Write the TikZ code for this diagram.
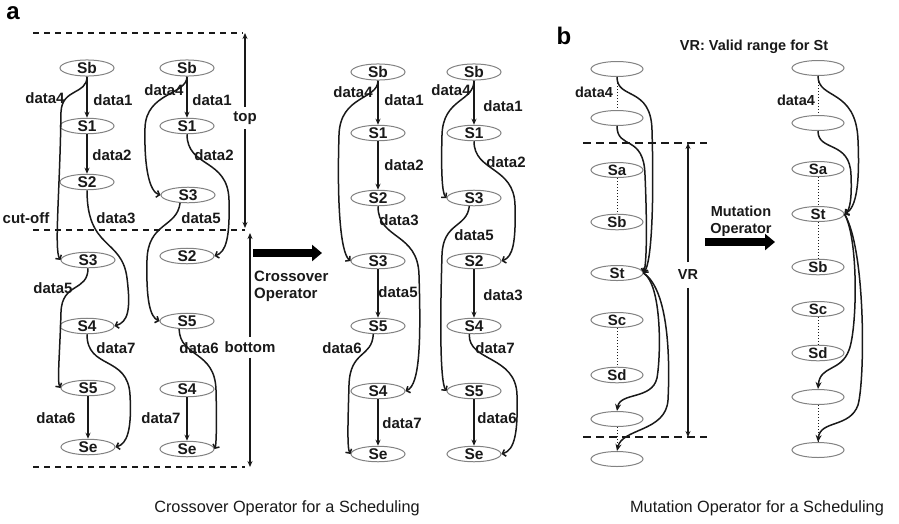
\documentclass[tikz,border=0pt]{standalone}
\usepackage{fontspec}
\setmainfont{Liberation Sans}
\usepackage{tikz}
\usetikzlibrary{arrows.meta,shapes.geometric}
\usepackage{xcolor}
\definecolor{cRim}{RGB}{130,130,130}
\definecolor{cInk}{RGB}{25,25,25}
\tikzset{
  st/.style     ={ellipse,draw=cRim,line width=1pt,minimum width=54pt,minimum height=15pt,
                  inner sep=0pt,font=\fontsize{15.5}{16}\selectfont\bfseries,text=cInk},
  stb/.style    ={st,minimum width=52pt,font=\fontsize{15}{16}\selectfont\bfseries},
  lbl/.style    ={font=\fontsize{15}{16}\selectfont\bfseries,inner sep=0pt,text=cInk},
  lblb/.style   ={lbl,font=\fontsize{14.5}{16}\selectfont\bfseries},
  dl/.style     ={lbl,outer sep=5pt},
  ed/.style     ={-{Stealth[length=6pt,width=5pt]},line width=1.5pt,draw=cInk},
  cv/.style     ={-{Straight Barb[length=3pt,width=7pt]},line width=1.5pt,draw=cInk},
  cvb/.style    ={-{Stealth[length=7pt,width=6pt]},line width=1.5pt,draw=cInk},
  cutline/.style={dash pattern=on 6pt off 5pt,line width=1.5pt,draw=cInk},
  dim/.style    ={-{Stealth[length=6pt,width=5pt]},line width=1.2pt,draw=cInk},
  opr/.style    ={-{Triangle[length=10pt,width=16pt]},line width=8pt,draw=black},
  dotl/.style   ={dotted,line width=1pt,draw=cInk},
  ttl/.style    ={font=\fontsize{24}{26}\selectfont\bfseries,inner sep=0pt},
  capt/.style   ={font=\fontsize{16.3}{18}\selectfont,inner sep=0pt,text=cInk},
}

\begin{document}
\begin{tikzpicture}[x=1pt,y=-1pt]
\useasboundingbox (0,0) rectangle (899,523);

\node[ttl] (ta) at (13,13) {a};
\node[ttl] (tb) at (564,36) {b};

\draw[cutline] (33,33) -- (243,33);
\draw[cutline] (33,230) -- (245,230);
\draw[cutline] (33,467) -- (245,467);

\node[dl] (ltop) at (245,118) {top};
\coordinate (tt) at (245,33);
\coordinate (tb2) at (245,228);
\draw[dim] (ltop.north) -- (tt);
\draw[dim] (ltop.south) -- (tb2);

\node[dl] (lbot) at (250,347) {bottom};
\coordinate (bt) at (250,233);
\coordinate (bb) at (250,467);
\draw[dim] (lbot.north) -- (bt);
\draw[dim] (lbot.south) -- (bb);

\node[lbl] (lcut) at (26,218) {cut-off};

\node[st] (p1sb) at (87,68) {Sb};
\node[st] (p1s1) at (87,126) {S1};
\node[st] (p1s2) at (87,182) {S2};
\node[st] (p1s3) at (88,260) {S3};
\node[st] (p1s4) at (87,326) {S4};
\node[st] (p1s5) at (88,388) {S5};
\node[st] (p1se) at (88,447) {Se};

\draw[ed] (p1sb) -- (p1s1);
\draw[ed] (p1s1) -- (p1s2);
\draw[ed] (p1s5) -- (p1se);
\draw[cv] (p1sb.south) .. controls (87,95) and (62,88) .. (61,112) .. controls (60,190) and (54,250) .. (p1s3.west);
\draw[cv] (p1s2.south) .. controls (87,250) and (122,238) .. (127,278) .. controls (131,310) and (128,322) .. (p1s4.east);
\draw[cv] (p1s3.south) .. controls (88,292) and (62,282) .. (61,312) .. controls (60,350) and (57,382) .. (p1s5.west);
\draw[cv] (p1s4.south) .. controls (87,370) and (128,355) .. (130,395) .. controls (132,430) and (127,444) .. (p1se.east);

\node[lbl] (p1l4) at (45,98) {data4};
\node[lbl] (p1l1) at (113,100) {data1};
\node[lbl] (p1l2) at (112,155) {data2};
\node[lbl] (p1l3) at (116,218) {data3};
\node[lbl] (p1l5) at (53,288) {data5};
\node[lbl] (p1l7) at (116,348) {data7};
\node[lbl] (p1l6) at (56,418) {data6};

\node[st] (p2sb) at (187,68) {Sb};
\node[st] (p2s1) at (187,126) {S1};
\node[st] (p2s3) at (188,195) {S3};
\node[st] (p2s2) at (187,256) {S2};
\node[st] (p2s5) at (187,321) {S5};
\node[st] (p2s4) at (187,389) {S4};
\node[st] (p2se) at (187,449) {Se};

\draw[ed] (p2sb) -- (p2s1);
\draw[ed] (p2s4) -- (p2se);
\draw[cv] (p2sb.south) .. controls (187,95) and (146,92) .. (145,128) .. controls (144,170) and (150,192) .. (p2s3.west);
\draw[cv] (p2s1.south) .. controls (187,168) and (228,158) .. (229,200) .. controls (230,238) and (226,252) .. (p2s2.east);
\draw[cv] (p2s3.-135) .. controls (177,228) and (148,222) .. (147,260) .. controls (146,300) and (150,317) .. (p2s5.west);
\draw[cv] (p2s5.-135) .. controls (180,358) and (215,350) .. (216,390) .. controls (217,428) and (216,446) .. (p2se.east);

\node[lbl] (p2l4) at (164,90) {data4};
\node[lbl] (p2l1) at (212,100) {data1};
\node[lbl] (p2l2) at (214,155) {data2};
\node[lbl] (p2l5) at (201,218) {data5};
\node[lbl] (p2l6) at (199,348) {data6};
\node[lbl] (p2l7) at (161,418) {data7};

\coordinate (co1) at (253,253);
\coordinate (co2) at (322,253);
\draw[opr] (co1) -- (co2);
\node[lbl,align=left,anchor=west,font=\fontsize{15}{17}\selectfont\bfseries] (lco) at (254,286) {Crossover\\Operator};

\node[st] (c1sb) at (378,72) {Sb};
\node[st] (c1s1) at (378,133) {S1};
\node[st] (c1s2) at (378,198) {S2};
\node[st] (c1s3) at (378,261) {S3};
\node[st] (c1s5) at (378,326) {S5};
\node[st] (c1s4) at (378,391) {S4};
\node[st] (c1se) at (378,454) {Se};

\draw[ed] (c1sb) -- (c1s1);
\draw[ed] (c1s1) -- (c1s2);
\draw[ed] (c1s3) -- (c1s5);
\draw[ed] (c1s4) -- (c1se);
\draw[cv] (c1sb.south) .. controls (378,100) and (340,95) .. (339,135) .. controls (337,200) and (340,252) .. (c1s3.west);
\draw[cv] (c1s2.south) .. controls (378,240) and (418,232) .. (419,275) .. controls (421,340) and (420,385) .. (c1s4.east);
\draw[cv] (c1s5.-120) .. controls (372,358) and (350,350) .. (349,385) .. controls (348,420) and (347,448) .. (c1se.west);

\node[lbl] (c1l4) at (353,92) {data4};
\node[lbl] (c1l1) at (404,100) {data1};
\node[lbl] (c1l2) at (404,165) {data2};
\node[lbl] (c1l3) at (399,220) {data3};
\node[lbl] (c1l5) at (398,292) {data5};
\node[lbl] (c1l6) at (342,348) {data6};
\node[lbl] (c1l7) at (402,423) {data7};

\node[st] (c2sb) at (474,72) {Sb};
\node[st] (c2s1) at (474,133) {S1};
\node[st] (c2s3) at (474,198) {S3};
\node[st] (c2s2) at (474,261) {S2};
\node[st] (c2s4) at (474,326) {S4};
\node[st] (c2s5) at (474,391) {S5};
\node[st] (c2se) at (474,454) {Se};

\draw[ed] (c2sb) -- (c2s1);
\draw[ed] (c2s2) -- (c2s4);
\draw[ed] (c2s5) -- (c2se);
\draw[cv] (c2sb.south) .. controls (474,102) and (443,98) .. (442,135) .. controls (441,170) and (442,193) .. (c2s3.west);
\draw[cv] (c2s1.south) .. controls (474,172) and (514,166) .. (515,205) .. controls (516,242) and (513,257) .. (c2s2.east);
\draw[cv] (c2s3.-120) .. controls (467,228) and (443,222) .. (442,255) .. controls (440,320) and (440,382) .. (c2s5.west);
\draw[cv] (c2s4.-120) .. controls (468,362) and (516,355) .. (517,395) .. controls (518,432) and (515,450) .. (c2se.east);

\node[lbl] (c2l4) at (451,90) {data4};
\node[lbl] (c2l1) at (503,106) {data1};
\node[lbl] (c2l2) at (506,162) {data2};
\node[lbl] (c2l5) at (474,235) {data5};
\node[lbl] (c2l3) at (503,295) {data3};
\node[lbl] (c2l7) at (495,348) {data7};
\node[lbl] (c2l6) at (497,418) {data6};

\node[capt] (capa) at (287,508) {Crossover Operator for a Scheduling};

\node[lblb] (vrt) at (754,47) {VR: Valid range for St};

\node[stb] (mle1) at (617,69) {};
\node[stb] (mle2) at (617,118) {};
\node[stb] (mlsa) at (617,170) {Sa};
\node[stb] (mlsb) at (617,222) {Sb};
\node[stb] (mlst) at (617,273) {St};
\node[stb] (mlsc) at (617,320) {Sc};
\node[stb] (mlsd) at (617,375) {Sd};
\node[stb] (mle3) at (617,419) {};
\node[stb] (mle4) at (617,459) {};

\draw[dotl] (mle1) -- (mle2);
\draw[dotl] (mlsa) -- (mlsb);
\draw[dotl] (mlsc) -- (mlsd);
\draw[dotl] (mle3) -- (mle4);
\node[lblb] (mll4) at (594,92) {data4};

\draw[cv] (mle1.south) .. controls (617,100) and (651,86) .. (652,130) .. controls (654,200) and (652,262) .. (mlst.east);
\draw[cv] (mle2.south) .. controls (617,150) and (644,134) .. (645,175) .. controls (647,220) and (647,262) .. (mlst.east);
\draw[cvb] (mlst.east) .. controls (662,285) and (661,355) .. (657,378) .. controls (652,400) and (620,392) .. (mle3.north);
\draw[cvb] (mlst.east) .. controls (669,290) and (670,360) .. (668,400) .. controls (666,432) and (622,428) .. (mle4.north);

\draw[cutline,dash pattern=on 8pt off 5pt] (583,143) -- (707,143);
\draw[cutline,dash pattern=on 8pt off 5pt] (583,437) -- (707,437);

\node[lblb,outer sep=8pt] (vr) at (688,275) {VR};
\coordinate (vra) at (688,143);
\coordinate (vrz) at (688,437);
\draw[dim] (vr.north) -- (vra);
\draw[dim] (vr.south) -- (vrz);

\coordinate (mo1) at (705,242);
\coordinate (mo2) at (775,242);
\draw[opr] (mo1) -- (mo2);
\node[lblb,align=center,font=\fontsize{14.5}{17}\selectfont\bfseries] (lmo) at (741,221) {Mutation\\Operator};

\node[stb] (mre1) at (818,68) {};
\node[stb] (mre2) at (818,123) {};
\node[stb] (mrsa) at (818,169) {Sa};
\node[stb] (mrst) at (818,214) {St};
\node[stb] (mrsb) at (818,267) {Sb};
\node[stb] (mrsc) at (818,309) {Sc};
\node[stb] (mrsd) at (818,353) {Sd};
\node[stb] (mre3) at (818,397) {};
\node[stb] (mre4) at (818,450) {};

\draw[dotl] (mre1) -- (mre2);
\draw[dotl] (mrsa) -- (mrst);
\draw[dotl] (mrst) -- (mrsb);
\draw[dotl] (mrsc) -- (mrsd);
\draw[dotl] (mre3) -- (mre4);
\node[lblb] (mrl4) at (796,100) {data4};

\draw[cv] (mre1.south) .. controls (818,100) and (856,88) .. (858,140) .. controls (860,185) and (856,208) .. (mrst.east);
\draw[cv] (mre2.south) .. controls (818,152) and (850,140) .. (851,175) .. controls (852,198) and (850,210) .. (mrst.east);
\draw[cvb] (mrst.east) .. controls (859,240) and (857,330) .. (849,350) .. controls (841,372) and (820,365) .. (mre3.north);
\draw[cvb] (mrst.east) .. controls (866,250) and (865,380) .. (858,405) .. controls (850,428) and (820,420) .. (mre4.north);

\node[capt] (capb) at (757,508) {Mutation Operator for a Scheduling};

\end{tikzpicture}
\end{document}
